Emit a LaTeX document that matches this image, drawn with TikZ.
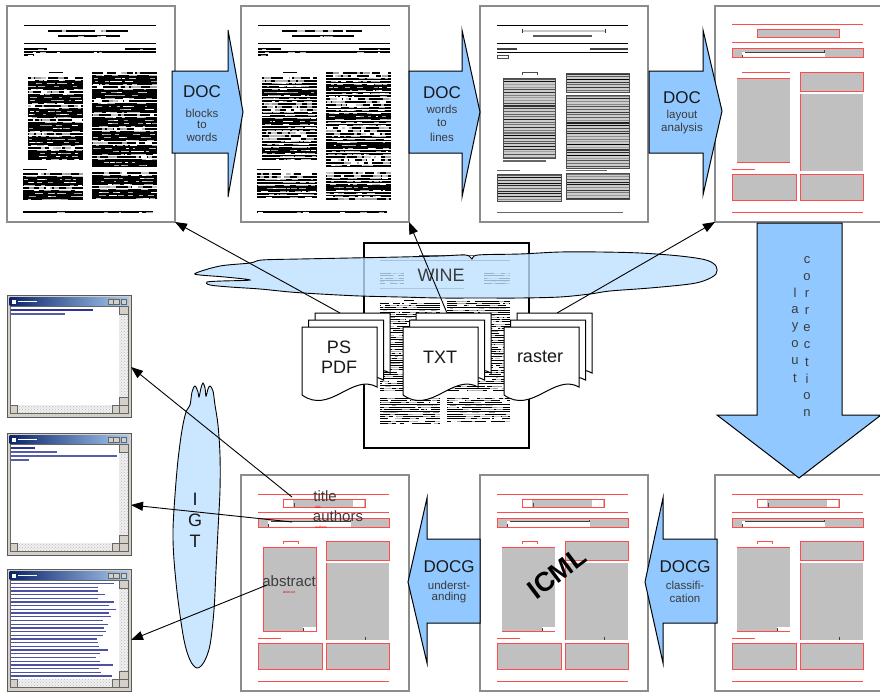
\documentclass[tikz,border=0pt]{standalone}
\usepackage{fontspec}
\setmainfont{Liberation Sans}
\usetikzlibrary{arrows.meta,patterns}

\definecolor{arrowblue}{RGB}{145,200,255}
\definecolor{cloudblue}{RGB}{190,224,255}
\definecolor{pageframe}{RGB}{140,140,140}
\definecolor{layoutred}{RGB}{255,75,75}
\definecolor{blockgray}{RGB}{192,192,192}
\definecolor{textdark}{RGB}{25,25,25}
\definecolor{labelgray}{RGB}{60,60,60}
\definecolor{winFrame}{RGB}{212,208,200}
\definecolor{winTitleL}{RGB}{10,36,106}
\definecolor{winTitleR}{RGB}{166,202,240}
\definecolor{winText}{RGB}{45,50,150}

\tikzset{
  page/.style={draw=pageframe, line width=1.2pt, fill=white, minimum width=168pt,
    minimum height=216pt, inner sep=0pt, outer sep=0pt},
  srcpage/.style={draw=black, line width=1.1pt, fill=white, minimum width=165pt,
    minimum height=205pt, inner sep=0pt, outer sep=0pt},
  winbox/.style={draw=black!65, line width=0.8pt, fill=winFrame, minimum width=124pt,
    minimum height=122pt, inner sep=0pt, outer sep=0pt},
  blockarrow/.style={draw=black, line width=1pt, fill=arrowblue, line join=miter},
  cloudsty/.style={draw=black, line width=0.9pt, fill=cloudblue, fill opacity=0.8},
  docsty/.style={draw=black, line width=1pt, fill=white},
  conn/.style={draw=black, line width=0.9pt, -{Triangle[length=12pt,width=9pt]}},
  redl/.style={draw=layoutred, line width=1pt},
  scrollbg/.style={fill=gray!12, postaction={pattern=crosshatch dots, pattern color=gray!55}},
  bigtxt/.style={font=\fontsize{17}{17}\selectfont, text=textdark, inner sep=0pt},
  smalltxt/.style={font=\fontsize{11.5}{11.5}\selectfont, text=textdark!85, inner sep=0pt},
  doctxt/.style={font=\fontsize{18}{20}\selectfont, text=textdark, inner sep=0pt, align=center},
  lbl/.style={font=\fontsize{15}{15}\selectfont, text=labelgray, inner sep=0pt},
  tinyred/.style={font=\fontsize{3.5}{3.5}\selectfont, text=red, inner sep=0pt},
}

% rows of word-like bars: x0, y0, x1, y1, row step, bar width, gaps per row
\newcommand\txtblock[7]{%
  \pgfmathtruncatemacro\nrows{floor((#4-#2)/#5)}%
  \foreach \r in {0,...,\nrows}{%
    \pgfmathsetmacro\yy{#2+\r*#5}%
    \draw[line width=#6pt, black] (#1,\yy) -- (#3,\yy);
    \foreach \k in {1,...,#7}{%
      \pgfmathsetmacro\xa{#1+rnd*(#3-#1-4)}%
      \pgfmathsetmacro\xb{min(\xa+2+rnd*6,#3)}%
      \pgfmathtruncatemacro\sh{4*rnd}%
      \ifcase\sh\def\hc{white}\or\def\hc{gray!45}\or\def\hc{gray!75}\or\def\hc{gray!60}\else\def\hc{white}\fi
      \draw[line width=0.6*#6pt, \hc] (\xa,\yy) -- (\xb,\yy);
    }%
  }%
}

% a page of word boxes: row step, bar width, gaps per row
\newcommand\textpage[3]{%
  \draw[black, line width=0.9pt] (17,19) -- (149,19);
  \txtblock{41}{25}{121}{26}{#1}{1.8}{4}
  \txtblock{51}{30}{113}{31}{#1}{1.2}{3}
  \draw[black, line width=0.9pt] (17,37) -- (149,37);
  \txtblock{17}{43}{40}{44}{#1}{1.6}{1}
  \txtblock{118}{43}{149}{44}{#1}{1.6}{1}
  \txtblock{17}{46}{149}{47}{#1}{1.6}{5}
  \txtblock{17}{49}{27}{50}{#1}{1.6}{1}
  \draw[black, line width=1pt] (42,66) -- (56,66);
  \txtblock{21}{72}{76}{155}{#1}{#2}{#3}
  \txtblock{85}{67}{150}{161}{#1}{#2}{#3}
  \draw[black, line width=1pt] (16,163) -- (40,163);
  \txtblock{16}{168}{76}{194}{#1}{#2}{#3}
  \txtblock{85}{167}{150}{194}{#1}{#2}{#3}
  \txtblock{16}{206}{146}{207}{#1}{1.1}{6}
}

% a block of text lines
\newcommand\stripes[4]{%
  \fill[gray!40] (#1,#2) rectangle (#3,#4);
  \pgfmathtruncatemacro\nst{floor((#4-#2-1)/2.7)}%
  \foreach \r in {0,...,\nst}{%
    \pgfmathsetmacro\yy{#2+1+\r*2.7}%
    \pgfmathtruncatemacro\cc{35+65*rnd}%
    \draw[black!\cc, line width=1.1pt] (#1,\yy) -- (#3,\yy);
  }%
  \draw[black!70, line width=0.5pt] (#1,#2) rectangle (#3,#4);
}

\newcommand\linepage{%
  \draw[black, line width=0.8pt] (17,19) -- (148,19);
  \draw[gray!45, line width=2pt] (42,25) -- (125,25);
  \draw[black!80, line width=0.8pt] (42,23) -- (42,27) (125,23) -- (125,27);
  \draw[black!65, line width=2pt] (53,30) -- (112,30);
  \draw[black, line width=0.8pt] (17,37) -- (148,37);
  \draw[black!75, line width=2.2pt] (17,43) -- (37,43);
  \draw[black!75, line width=2.2pt] (110,43) -- (148,43);
  \draw[black, line width=0.6pt] (17,46) -- (148,46);
  \draw[black!70, line width=0.6pt] (17,49) rectangle (28,52);
  \draw[black!70, line width=0.6pt] (42,69) -- (42,66) -- (57,66) -- (57,69);
  \stripes{23}{72}{75}{152}
  \draw[black!60, line width=1.4pt] (23,155) -- (66,155);
  \stripes{86}{67}{149}{86}
  \stripes{86}{89}{149}{162}
  \draw[black!60, line width=0.8pt] (17,164) -- (40,164);
  \draw[black!60, line width=0.8pt] (86,164) -- (127,164);
  \stripes{17}{168}{81}{195}
  \stripes{86}{167}{149}{193}
  \draw[black!60, line width=0.8pt] (17,206) -- (143,206);
}

% layout blocks: 0 = analysed, 1 = classified, 2 = understood
\newcommand\redlayout[1]{%
  \draw[redl] (17,19) -- (148,19);
  \fill[blockgray] (42,24) rectangle (124,32);
  \ifnum#1>0
    \fill[white] (43,25) rectangle (52,31.5);
    \fill[white] (112,25) rectangle (123,31.5);
    \draw[black!70, line width=0.6pt] (53,28) -- (53,32);
  \fi
  \draw[redl] (42,24) rectangle (124,32);
  \draw[redl] (17,37) -- (148,37);
  \fill[blockgray] (17,43) rectangle (148,52);
  \fill[white] (27,46) rectangle (110,52);
  \draw[black!75, line width=0.7pt] (30,46.5) -- (109,46.5) -- (109,44.5);
  \draw[black!75, line width=0.7pt] (27,49) -- (27,52);
  \draw[redl] (17,43) rectangle (148,52);
  \ifnum#1>0
    \draw[redl] (42,69) -- (42,66) -- (57,66) -- (57,69);
  \else
    \draw[redl] (27,66) -- (75,66);
  \fi
  \fill[blockgray] (22,72) rectangle (75,156);
  \ifnum#1>0
    \fill[white] (62,152) rectangle (75,156);
    \draw[black!75, line width=0.6pt] (62,153) -- (62,156);
  \fi
  \ifnum#1=2
    \draw[redl] (22,72) rectangle (75,156);
  \else
    \draw[redl] (22,72) -- (75,72) (22,156) -- (75,156);
  \fi
  \fill[blockgray] (85,66) rectangle (148,85);
  \draw[redl] (85,66) rectangle (148,85);
  \fill[blockgray] (85,88) rectangle (148,165);
  \draw[redl] (85,88) -- (85,165);
  \ifnum#1>0
    \draw[black!75, line width=0.6pt] (124,162) -- (124,165);
  \fi
  \draw[redl] (17,163) -- (40,163);
  \fill[blockgray] (17,168) rectangle (81,194);
  \draw[redl] (17,168) rectangle (81,194);
  \fill[blockgray] (85,168) rectangle (148,194);
  \draw[redl] (85,168) rectangle (148,194);
  \draw[redl] (17,206) -- (148,206);
}

% three stacked documents, front sheet at (x,y)
\newcommand\docstack[2]{%
  \foreach \o in {13,6.5,0}{%
    \begin{scope}[shift={(#1+\o,#2-1.077*\o)}]
      \draw[docsty] (0,0) -- (75,0) -- (75,60) .. controls (50,46) and (28,88) .. (0,68) -- cycle;
    \end{scope}
  }%
}

% a small reader window: name, centre x, centre y
\newcommand\appwindow[3]{%
  \node[winbox] (#1) at (#2,#3) {};
  \begin{scope}[shift={(#1.north west)}]
    \shade[left color=winTitleL, right color=winTitleR] (2.5,2.5) rectangle (121.5,10.5);
    \fill[white] (4.5,4.5) rectangle (8.5,8.5);
    \draw[white, line width=1.6pt] (11,6.5) -- (30,6.5);
    \foreach \bx in {101,106.5,114}{%
      \draw[fill=winFrame, draw=black!60, line width=0.4pt] (\bx,4) rectangle +(5.5,5.5);
    }
    \fill[white] (3,11.5) rectangle (112,110);
    \path[scrollbg] (112,11.5) rectangle (121,110);
    \path[scrollbg] (3,110) rectangle (112,118.5);
    \draw[fill=winFrame, draw=black!60, line width=0.4pt] (112,11.5) rectangle (121,19);
    \draw[fill=winFrame, draw=black!60, line width=0.4pt] (112,102) rectangle (121,110);
    \draw[fill=winFrame, draw=black!60, line width=0.4pt] (3,110) rectangle (10,118.5);
    \draw[fill=winFrame, draw=black!60, line width=0.4pt] (105,110) rectangle (112,118.5);
    \draw[black!60, line width=0.5pt] (3,11.5) rectangle (121,118.5);
  \end{scope}
}

\begin{document}
\begin{tikzpicture}[x=1pt,y=-1pt]
\useasboundingbox (0,0) rectangle (880,693);
\fill[white] (0,0) rectangle (880,693);

% ---------- upper row of pages ----------
\node[page] (p1) at (91,114) {};
\begin{scope}[shift={(p1.north west)}]
  \pgfmathsetseed{11}
  \textpage{2.8}{2.3}{7}
\end{scope}

\node[page] (p2) at (325,114) {};
\begin{scope}[shift={(p2.north west)}]
  \pgfmathsetseed{27}
  \textpage{2.9}{2.1}{8}
\end{scope}

\node[page] (p3) at (564,114) {};
\begin{scope}[shift={(p3.north west)}]
  \pgfmathsetseed{5}
  \linepage
\end{scope}

\node[page] (p4) at (799,114) {};
\begin{scope}[shift={(p4.north west)}]
  \redlayout{0}
\end{scope}

% ---------- source document ----------
\node[srcpage] (src) at (446.5,345.5) {};
\begin{scope}[shift={(src.north west)}]
  \pgfmathsetseed{41}
  \draw[black!60, line width=0.8pt] (55,12) -- (110,12);
  \draw[gray!60!black, line width=0.6pt] (16,17) -- (146,17);
  \txtblock{16}{30}{40}{42}{2.6}{0.9}{2}
  \txtblock{120}{30}{146}{42}{2.6}{0.9}{2}
  \draw[black!60, line width=0.8pt] (16,45) -- (100,45);
  \draw[black, line width=0.8pt] (40,57) -- (50,57);
  \txtblock{16}{60}{76}{148}{2.3}{1.0}{6}
  \txtblock{83}{58}{146}{148}{2.3}{1.0}{6}
  \txtblock{16}{155}{76}{182}{2.3}{1.0}{6}
  \txtblock{83}{155}{146}{178}{2.3}{1.0}{6}
\end{scope}

% ---------- WINE cloud ----------
\draw[cloudsty] plot[smooth cycle, tension=0.55] coordinates {
  (196,273) (220,266) (250,263) (262,260) (300,259) (350,258) (400,257) (440,256)
  (466,255) (472,259) (478,255) (520,254) (560,252) (600,252) (640,253) (680,256)
  (706,260) (716,266) (716,274) (706,280) (690,284) (650,288) (610,291) (590,294)
  (560,297) (520,298) (480,298) (440,298) (400,297) (360,296) (320,294) (290,292)
  (260,289) (230,287) (210,285) (207,282) (222,281) (250,280) (225,277) (200,275)};
\node[font=\fontsize{18}{18}\selectfont, text=labelgray, inner sep=0pt] (wine) at (441,275) {WINE};

% ---------- input formats ----------
\docstack{302}{327}
\docstack{403}{327}
\docstack{504}{327}
\node[doctxt] (ps) at (339,357) {PS\\PDF};
\node[doctxt] (txt) at (440,357) {TXT};
\node[doctxt] (raster) at (540,357) {raster};
\coordinate (psTop) at (340,313);
\coordinate (txtTop) at (447,313);
\coordinate (rasTop) at (557,313);

% ---------- lower row of pages ----------
\node[page] (b1) at (325,583) {};
\begin{scope}[shift={(b1.north west)}]
  \redlayout{2}
\end{scope}
\node[page] (b2) at (564,583) {};
\begin{scope}[shift={(b2.north west)}]
  \redlayout{1}
\end{scope}
\node[page] (b3) at (799,583) {};
\begin{scope}[shift={(b3.north west)}]
  \redlayout{1}
\end{scope}

\node[font=\bfseries\fontsize{27}{27}\selectfont, text=black, inner sep=0pt, rotate=37] (icml) at (557,573) {ICML};

% ---------- IGT cloud ----------
\draw[cloudsty] plot[smooth cycle, tension=0.55] coordinates {
  (190,405) (192,392) (195,386) (198,392) (199,397) (201,388) (203,383) (205,388)
  (206,396) (208,389) (210,386) (213,391) (215,405) (218,425) (220,455) (220,490)
  (218,530) (216,570) (214,610) (210,645) (204,662) (197,668) (190,660) (184,640)
  (178,600) (174,560) (173,530) (175,495) (178,460) (182,430) (186,412)};
\node[doctxt] (igtI) at (195,499) {I};
\node[doctxt] (igtG) at (195,520) {G};
\node[doctxt] (igtT) at (195,541) {T};

% ---------- reader windows ----------
\appwindow{w1}{69}{356}
\begin{scope}[shift={(w1.north west)}]
  \draw[winText, line width=1.5pt] (4,15) -- (86,15);
  \draw[winText!80, line width=1.1pt] (4,19) -- (58,19);
\end{scope}
\appwindow{w2}{69}{494}
\begin{scope}[shift={(w2.north west)}]
  \draw[winText, line width=1.5pt] (4,15) -- (28,15);
  \draw[winText!80, line width=1.1pt] (4,19) -- (50,19);
  \draw[winText!80, line width=1.1pt] (4,23) -- (110,23);
  \draw[winText!80, line width=1.1pt] (4,27) -- (22,27);
\end{scope}
\appwindow{w3}{69}{630}
\begin{scope}[shift={(w3.north west)}]
  \pgfmathsetseed{7}
  \foreach \r in {0,...,25}{%
    \pgfmathsetmacro\yy{14.5+\r*3.7}%
    \pgfmathsetmacro\xe{88+rnd*22}%
    \draw[winText!85, line width=1.3pt] (4,\yy) -- (\xe,\yy);
  }
\end{scope}

% ---------- processing steps ----------
\draw[blockarrow] (172,71) -- (228,71) -- (228,30) -- (243,112) -- (228,197) -- (228,153) -- (172,153) -- cycle;
\draw[blockarrow] (409,71) -- (462,71) -- (462,30) -- (480,112) -- (462,197) -- (462,153) -- (409,153) -- cycle;
\draw[blockarrow] (649,71) -- (703,71) -- (703,30) -- (722,111) -- (703,195) -- (703,153) -- (649,153) -- cycle;
\draw[blockarrow] (757,223) -- (842,223) -- (842,415) -- (881,415) -- (799,478) -- (717,415) -- (757,415) -- cycle;
\draw[blockarrow] (480,539) -- (427,539) -- (427,498) -- (408,582) -- (427,663) -- (427,623) -- (480,623) -- cycle;
\draw[blockarrow] (717,539) -- (663,539) -- (663,498) -- (645,582) -- (663,663) -- (663,623) -- (717,623) -- cycle;

\node[bigtxt] (a1) at (202,92) {DOC};
\node[smalltxt] (a1l1) at (202,113) {blocks};
\node[smalltxt] (a1l2) at (202,125) {to};
\node[smalltxt] (a1l3) at (202,137) {words};

\node[bigtxt] (a2) at (442,93) {DOC};
\node[smalltxt] (a2l1) at (442,109) {words};
\node[smalltxt] (a2l2) at (442,123) {to};
\node[smalltxt] (a2l3) at (442,137) {lines};

\node[bigtxt] (a3) at (682,98) {DOC};
\node[smalltxt] (a3l1) at (682,116) {layout};
\node[smalltxt] (a3l2) at (682,129) {analysis};

\foreach \ch [count=\i] in {l,a,y,o,u,t}
  \node[font=\fontsize{13}{13}\selectfont, text=textdark!85, inner sep=0pt] (lay\i) at (795,276+\i*17) {\ch};
\foreach \ch [count=\i] in {c,o,r,r,e,c,t,i,o,n}
  \node[font=\fontsize{13}{13}\selectfont, text=textdark!85, inner sep=0pt] (cor\i) at (807,243+\i*17) {\ch};

\node[bigtxt] (c1) at (449,567) {DOCG};
\node[smalltxt] (c1l1) at (449,585) {underst-};
\node[smalltxt] (c1l2) at (449,598) {anding};

\node[bigtxt] (c2) at (685,567) {DOCG};
\node[smalltxt] (c2l1) at (685,585) {classifi-};
\node[smalltxt] (c2l2) at (685,598) {cation};

% ---------- extracted fields ----------
\node[lbl] (tTitle) at (325,496) {title};
\node[lbl] (tAuthors) at (338,516) {authors};
\node[lbl] (tAbstract) at (289,581) {abstract};
\node[tinyred] (rTitle) at (318,507) {title};
\node[tinyred] (rAuthors) at (321,527) {authors};
\node[tinyred] (rAbstract) at (289,592) {abstract};
\coordinate (titleEnd) at (292,497);
\coordinate (authorsEnd) at (292,522);
\coordinate (abstractEnd) at (267,585);

% ---------- connectors ----------
\draw[conn] (psTop) -- (p1.south east);
\draw[conn] (txtTop) -- (p2.south east);
\draw[conn] (rasTop) -- (p4.south west);
\draw[conn] (titleEnd) -- ([yshift=-11pt]w1.east);
\draw[conn] (authorsEnd) -- ([yshift=-11pt]w2.east);
\draw[conn] (abstractEnd) -- ([yshift=-10pt]w3.east);
\end{tikzpicture}
\end{document}
